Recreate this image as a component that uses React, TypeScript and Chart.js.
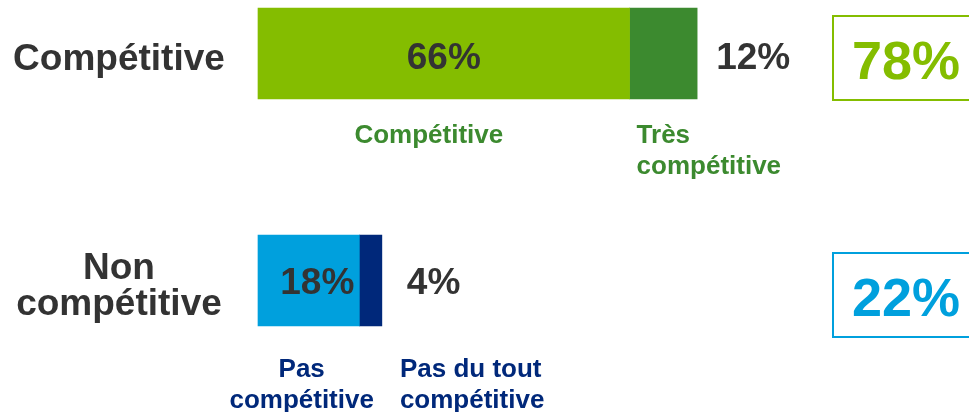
import React, { useEffect, useRef } from 'react';
import { Chart, registerables } from 'chart.js';

Chart.register(...registerables);

// ---- data ----
const categories: string[][] = [['Compétitive'], ['Non', 'compétitive']];
const primaryValues = [66, 18];
const secondaryValues = [12, 4];
const totals = [78, 22];
const primaryNames: string[][] = [['Compétitive'], ['Pas', 'compétitive']];
const secondaryNames: string[][] = [['Très', 'compétitive'], ['Pas du tout', 'compétitive']];

// ---- styles ----
const primaryColors = ['#84BD00', '#00A0DD'];
const secondaryColors = ['#3C8A2F', '#00287A'];
const nameColors = ['#3C8A2F', '#00287A'];
const totalColors = ['#84BD00', '#00A0DD'];
const TEXT = '#333333';
const FONT = '"Liberation Sans", Arial, Helvetica, sans-serif';

// per-row layout tweaks (pixels)
const primaryNameShift = [-15, -7];
const nameGap = [44, 51];
const secondaryValueGap = [19, 25];
const boxShiftY = [4, 14];
const valueBaseline = [15.5, 13];

const overlay = {
  id: 'overlay',
  afterDatasetsDraw(chart: any) {
    const ctx = chart.ctx as CanvasRenderingContext2D;
    const m0 = chart.getDatasetMeta(0);
    const m1 = chart.getDatasetMeta(1);
    const area = chart.chartArea;
    ctx.save();
    categories.forEach((lines, i) => {
      const p: any = m0.data[i];
      const s: any = m1.data[i];
      const cy = p.y;
      const h = p.height;
      const bottom = cy + h / 2;

      // category label (left)
      ctx.font = `bold 37px ${FONT}`;
      ctx.fillStyle = TEXT;
      ctx.textAlign = 'center';
      ctx.textBaseline = 'alphabetic';
      const lh = 36;
      const first = cy + 3 - ((lines.length - 1) * lh) / 2 + 13.2;
      lines.forEach((t, k) => ctx.fillText(t, area.left / 2 - 10, first + k * lh));

      // primary value label
      const pText = `${primaryValues[i]}%`;
      const pw = ctx.measureText(pText).width;
      const barW = p.x - p.base;
      if (barW > 2 * pw) {
        ctx.textAlign = 'center';
        ctx.fillText(pText, (p.x + p.base) / 2, cy + valueBaseline[i]);
      } else {
        ctx.textAlign = 'right';
        ctx.fillText(pText, p.x - 5, cy + valueBaseline[i]);
      }

      // secondary value label
      ctx.textAlign = 'left';
      ctx.fillText(`${secondaryValues[i]}%`, s.x + secondaryValueGap[i], cy + valueBaseline[i]);

      // segment names
      ctx.font = `bold 26px ${FONT}`;
      ctx.fillStyle = nameColors[i];
      const nlh = 30.5;
      const nFirst = bottom + nameGap[i];
      const pc = (p.x + p.base) / 2 + primaryNameShift[i];
      ctx.textAlign = 'center';
      let maxW = 0;
      primaryNames[i].forEach((t, k) => {
        maxW = Math.max(maxW, ctx.measureText(t).width);
        ctx.fillText(t, pc, nFirst + k * nlh);
      });
      const primaryRight = pc + maxW / 2;
      const sLeft = Math.max(s.base + 7, primaryRight + 26);
      ctx.textAlign = 'left';
      secondaryNames[i].forEach((t, k) => ctx.fillText(t, sLeft, nFirst + k * nlh));

      // total box
      const bx = area.right + 11;
      const bw = 148;
      const bh = 85;
      const bcy = cy + boxShiftY[i];
      ctx.strokeStyle = totalColors[i];
      ctx.lineWidth = 2;
      ctx.strokeRect(bx + 1, Math.round(bcy - bh / 2) + 1, bw, bh - 1);
      ctx.fillStyle = totalColors[i];
      ctx.font = `bold 54px ${FONT}`;
      ctx.textAlign = 'center';
      ctx.fillText(`${totals[i]}%`, bx + bw / 2, bcy + 21);
    });
    ctx.restore();
  },
};

export default function App() {
  const ref = useRef<HTMLCanvasElement | null>(null);
  useEffect(() => {
    document.body.style.margin = '0';
    const canvas = ref.current;
    if (!canvas) return;
    const chart = new Chart(canvas, {
      type: 'bar',
      data: {
        labels: categories,
        datasets: [
          {
            label: 'primary',
            data: primaryValues,
            backgroundColor: primaryColors,
            borderWidth: 0,
            barThickness: 91,
            clip: false as any,
          },
          {
            label: 'secondary',
            data: secondaryValues,
            backgroundColor: secondaryColors,
            borderWidth: 0,
            barThickness: 91,
            clip: false as any,
          },
        ],
      },
      options: {
        animation: false,
        responsive: false,
        maintainAspectRatio: false,
        indexAxis: 'y',
        layout: { padding: { left: 258, right: 148, top: 53.5, bottom: 131.5 } },
        plugins: { legend: { display: false }, tooltip: { enabled: false } },
        scales: {
          x: { type: 'linear', min: 0, max: 100, stacked: true, display: false },
          y: { type: 'category', offset: false, stacked: true, display: false },
        },
      },
      plugins: [overlay],
    });
    return () => chart.destroy();
  }, []);
  return (
    <div style={{ width: 969, height: 412, background: '#ffffff' }}>
      <canvas ref={ref} width={969} height={412} style={{ display: 'block' }} />
    </div>
  );
}
